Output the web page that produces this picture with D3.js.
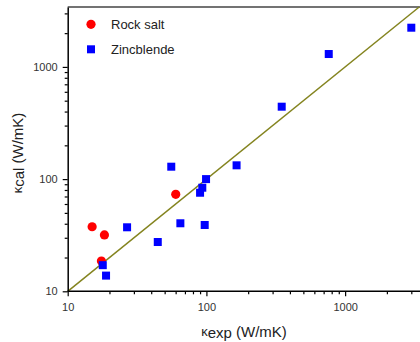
<!DOCTYPE html>
<html>
<head>
<meta charset="utf-8">
<script src="https://d3js.org/d3.v7.min.js"></script>
<style>
  body { margin: 0; background: #fff; }
  svg text { font-family: "Liberation Sans", Arial, sans-serif; }
</style>
</head>
<body>
<div id="chart"></div>
<script>
// measured vs calculated thermal conductivity (W/mK)
var rockExp = [15.0, 18.4, 17.5, 60.1];
var rockCal = [37.6, 31.8, 18.6, 73.2];

var zincExp = [17.9, 18.9, 26.8, 44.6, 55.8, 64.9, 97.2, 90, 93.4, 99.4, 165, 349, 762, 3000];
var zincCal = [17.1, 13.8, 37.2, 27.5, 129, 40.4, 39.0, 75.6, 83.8, 100, 132.7, 442, 1303, 2236];

var majorTicks = [10, 100, 1000];
var axisMax = 3420;

var width = 420, height = 342;

var svg = d3.select("#chart").append("svg")
    .attr("width", width)
    .attr("height", height);

// log scales, both axes
var x = d3.scaleLog().domain([10, axisMax]).range([67.7, 419.2]);
var y = d3.scaleLog().domain([10, axisMax]).range([291.3, 7]);

// top frame line
svg.append("line")
    .attr("x1", 67.7).attr("x2", 420)
    .attr("y1", 7).attr("y2", 7)
    .attr("stroke", "#444")
    .attr("stroke-width", 1.5);

// y = x reference line
svg.append("line")
    .attr("x1", x(10)).attr("y1", y(10))
    .attr("x2", x(axisMax)).attr("y2", y(axisMax))
    .attr("stroke", "#84841f")
    .attr("stroke-width", 1.5);

// points
svg.append("g").selectAll("circle")
    .data(rockExp)
    .enter().append("circle")
      .attr("cx", function(d) { return x(d); })
      .attr("cy", function(d, i) { return y(rockCal[i]); })
      .attr("r", 4.6)
      .attr("fill", "#ff0000");

svg.append("g").selectAll("rect")
    .data(zincExp)
    .enter().append("rect")
      .attr("x", function(d) { return x(d) - 4; })
      .attr("y", function(d, i) { return y(zincCal[i]) - 4; })
      .attr("width", 8)
      .attr("height", 8)
      .attr("fill", "#0000ff");

// x axis: minor ticks then major ticks with labels
var xMinor = x.ticks().filter(function(d) { return majorTicks.indexOf(d) < 0; });
svg.append("g")
    .attr("transform", "translate(0," + 291.3 + ")")
    .call(d3.axisBottom(x).tickValues(xMinor).tickSize(3).tickSizeOuter(0).tickFormat(""))
    .call(function(g) { g.select(".domain").remove(); });

var xAxis = svg.append("g")
    .attr("transform", "translate(0," + 291.3 + ")")
    .call(d3.axisBottom(x).tickValues(majorTicks).tickSize(5).tickPadding(7)
      .tickSizeOuter(0).tickFormat(d3.format("d")));
xAxis.select(".domain").attr("d", "M67.7,0H420").attr("stroke-width", 1.5);

// y axis
var yMinor = y.ticks().filter(function(d) { return majorTicks.indexOf(d) < 0; });
svg.append("g")
    .attr("transform", "translate(" + 67.7 + ",0)")
    .call(d3.axisLeft(y).tickValues(yMinor).tickSize(3).tickSizeOuter(0).tickFormat(""))
    .call(function(g) { g.select(".domain").remove(); });

var yAxis = svg.append("g")
    .attr("transform", "translate(" + 67.7 + ",0)")
    .call(d3.axisLeft(y).tickValues(majorTicks).tickSize(5).tickPadding(5)
      .tickSizeOuter(0).tickFormat(d3.format("d")));
yAxis.select(".domain").attr("stroke-width", 1.5);

svg.selectAll(".tick text")
    .attr("font-size", 11)
    .attr("fill", "#333");
svg.selectAll(".tick line").attr("stroke-width", 1.2);

// axis titles
var xt = svg.append("text")
    .attr("x", 244)
    .attr("y", 337)
    .attr("text-anchor", "middle")
    .attr("font-size", 15)
    .attr("fill", "#222");
xt.append("tspan").attr("font-size", 13).attr("dy", -1).text("κ");
xt.append("tspan").attr("dy", 2).text("exp");
xt.append("tspan").attr("dy", -1).text(" (W/mK)");

var yt = svg.append("text")
    .attr("transform", "translate(23,153) rotate(-90)")
    .attr("text-anchor", "middle")
    .attr("font-size", 15)
    .attr("fill", "#222");
yt.append("tspan").attr("font-size", 13).attr("dy", -1).text("κ");
yt.append("tspan").attr("dy", 2).text("cal");
yt.append("tspan").attr("dy", -1).text(" (W/mK)");

// legend
var legend = svg.append("g");
legend.append("circle")
    .attr("cx", 91).attr("cy", 24.3).attr("r", 4.6)
    .attr("fill", "#ff0000");
legend.append("text")
    .attr("x", 111).attr("y", 29)
    .attr("font-size", 13).attr("fill", "#222")
    .text("Rock salt");
legend.append("rect")
    .attr("x", 87).attr("y", 45.3).attr("width", 8).attr("height", 8)
    .attr("fill", "#0000ff");
legend.append("text")
    .attr("x", 111).attr("y", 54)
    .attr("font-size", 13).attr("fill", "#222")
    .text("Zincblende");
</script>
</body>
</html>
